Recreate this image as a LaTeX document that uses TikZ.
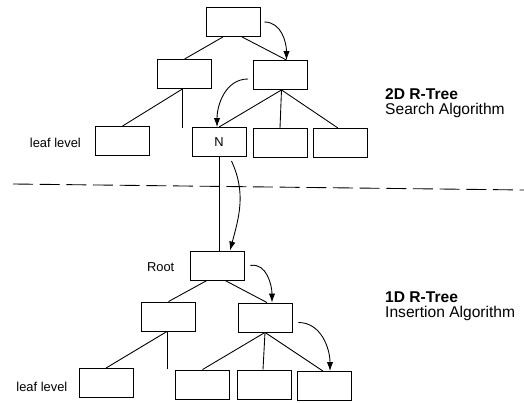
\documentclass[tikz,border=0pt]{standalone}
\usepackage{fontspec}
\setmainfont{Liberation Sans}
\usetikzlibrary{arrows.meta, positioning, calc}

\begin{document}
\begin{tikzpicture}[
  x=0.03cm, y=-0.03cm,
  tbox/.style={rectangle, draw, line width=0.75pt,
               minimum width=1.62cm, minimum height=0.87cm,
               inner sep=0pt, font=\fontsize{11}{13}\selectfont},
  link/.style={line width=0.75pt},
  arr/.style={-{Latex[length=2.7mm,width=1.9mm]}, line width=0.75pt},
  lbl/.style={inner sep=0pt, font=\fontsize{11}{13}\selectfont},
  algtitle/.style={inner sep=0pt, align=left, anchor=north west,
                   font=\fontsize{13.3}{12.8}\selectfont},
  divider/.style={line width=0.75pt, dash pattern=on 0.6cm off 0.2cm}
]
\useasboundingbox (0,0) rectangle (524,403);

%% ---- 2D R-Tree ----
\node[tbox] (rootA)  at (233,22)    {};
\node[tbox] (midAL)  at (184.5,74)  {};
\node[tbox] (midAR)  at (280.5,75)  {};
\node[tbox] (leafA1) at (122.5,141) {};
\node[tbox] (nodeN)  at (219,142)   {N};
\node[tbox] (leafA3) at (280,143)   {};
\node[tbox] (leafA4) at (340,143)   {};
\coordinate (stubA) at ($(midAL.south)+(-2,39)$);

\node[lbl, left=0.42cm of leafA1, yshift=-0.06cm] (lblLeafA) {leaf level};
\node[algtitle] (lblTwoD) at (385,88) {\textbf{2D R-Tree}\\Search Algorithm};

%% ---- divider ----
\coordinate (divL) at (13,184);
\coordinate (divR) at (524,190);
\draw[divider] (divL) -- (divR);

%% ---- 1D R-Tree ----
\node[tbox] (rootB)  at (217,265.5) {};
\node[tbox] (midBL)  at (168.5,316.5) {};
\node[tbox] (midBR)  at (265,317.5) {};
\node[tbox] (leafB1) at (106,383)   {};
\node[tbox] (leafB2) at (202.5,384.5) {};
\node[tbox] (leafB3) at (264,384.5) {};
\node[tbox] (leafB4) at (324,386)   {};
\coordinate (stubB) at ($(midBL.south)+(-1.5,38)$);

\node[lbl, left=0.45cm of rootB, yshift=-0.04cm] (lblRoot) {Root};
\node[lbl, left=0.33cm of leafB1, yshift=-0.12cm] (lblLeafB) {leaf level};
\node[algtitle] (lblOneD) at (385,292) {\textbf{1D R-Tree}\\Insertion Algorithm};

%% ---- tree links: 2D ----
\draw[link] ($(rootA.south)+(-10,0)$) -- (midAL.north);
\draw[link] ($(rootA.south)+(9,0)$)   -- ($(midAR.north)+(6,0)$);
\draw[link] ($(midAL.south)+(-2,0)$)  -- (leafA1.north);
\draw[link] ($(midAL.south)+(-2,0)$)  -- (stubA);
\draw[link] ($(midAR.south)+(1,0)$)   -- (nodeN.north);
\draw[link] ($(midAR.south)+(1,0)$)   -- (leafA3.north);
\draw[link] ($(midAR.south)+(1,0)$)   -- ($(leafA4.north)+(-2,0)$);

%% ---- N down to 1D root ----
\draw[link] (nodeN.south) -- (nodeN.south |- rootB.north);

%% ---- tree links: 1D ----
\draw[link] ($(rootB.south)+(-10,0)$) -- (midBL.north);
\draw[link] ($(rootB.south)+(8,0)$)   -- ($(midBR.north)+(2,0)$);
\draw[link] ($(midBL.south)+(-1.5,0)$) -- (leafB1.north);
\draw[link] ($(midBL.south)+(-1.5,0)$) -- (stubB);
\draw[link] (midBR.south) -- (leafB2.north);
\draw[link] (midBR.south) -- ($(leafB3.north)+(-1,0)$);
\draw[link] (midBR.south) -- ($(leafB4.north)+(-1,0)$);

%% ---- search / insertion path ----
\draw[arr] ($(rootA.east)+(4,0)$) to[out=0,in=90] ($(midAR.north)+(6,0)$);
\draw[arr] ($(midAR.west)+(-5,4)$) to[out=180,in=90] ($(nodeN.north)+(-2,0)$);
\draw[arr] ($(nodeN.south east)+(-15,4)$) to[out=-65,in=75] ($(rootB.north)+(13,0)$);
\draw[arr] ($(rootB.east)+(6,0)$) to[out=10,in=90] ($(midBR.north)+(7,0)$);
\draw[arr] ($(midBR.east)+(6,5)$) to[out=0,in=90] ($(leafB4.north)+(6,0)$);

\end{tikzpicture}
\end{document}
